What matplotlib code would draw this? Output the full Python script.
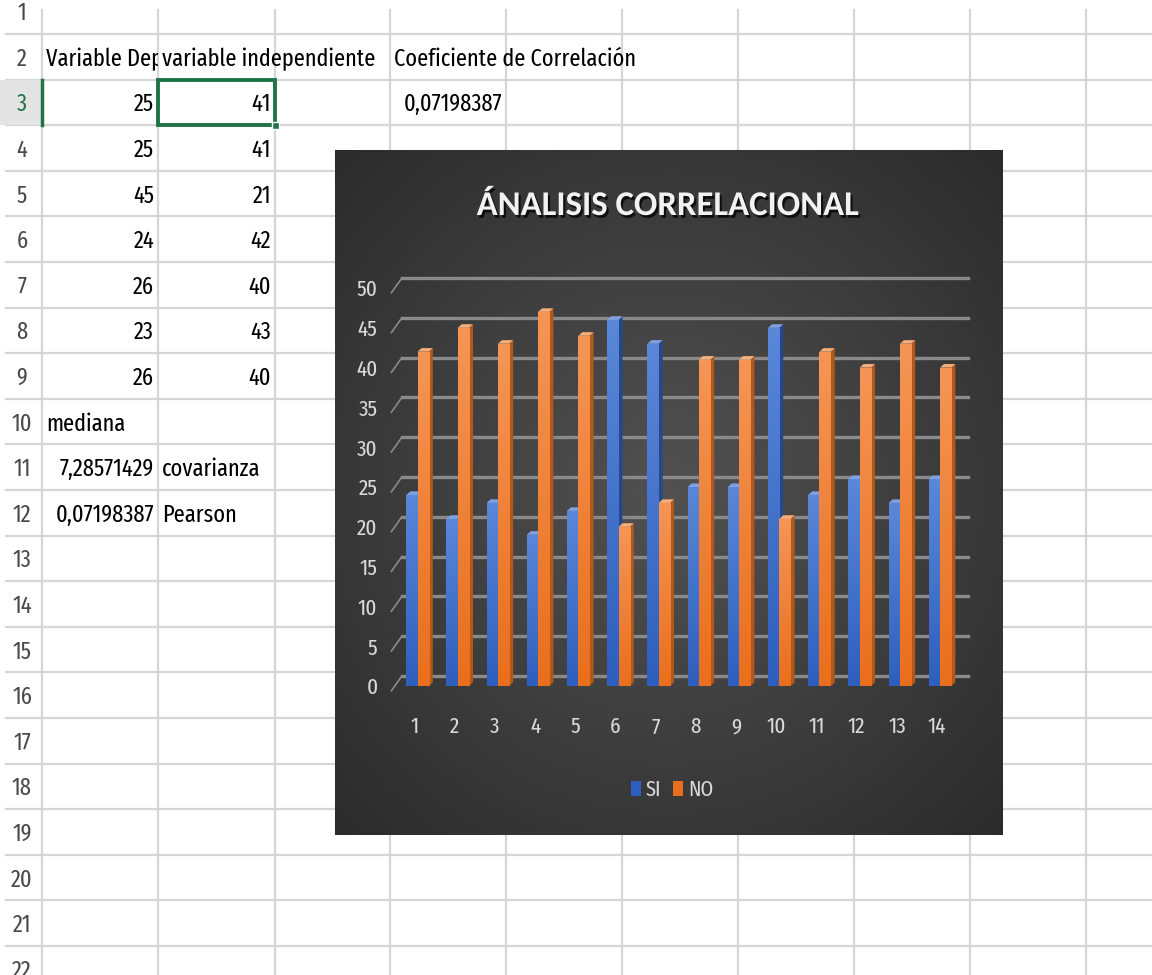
# Hoja de cálculo con gráfico de análisis correlacional
import numpy as np
import matplotlib.pyplot as plt
from matplotlib.patches import Rectangle, Polygon
from matplotlib.colors import LinearSegmentedColormap
import matplotlib.patheffects as pe
import matplotlib.transforms as mtransforms

plt.rcParams['font.family'] = ['Fira Sans Extra Condensed',
                               'Liberation Sans', 'DejaVu Sans']

# %%
# Datos del gráfico
categorias = np.arange(1, 15)
si = [24, 21, 23, 19, 22, 46, 43, 25, 25, 45, 24, 26, 23, 26]
no = [42, 45, 43, 47, 44, 20, 23, 41, 41, 21, 42, 40, 43, 40]
yticks = [0, 5, 10, 15, 20, 25, 30, 35, 40, 45, 50]

# Datos de la hoja
var_dep = [25, 25, 45, 24, 26, 23, 26]
var_indep = [41, 41, 21, 42, 40, 43, 40]
coef_corr = '0,07198387'
covarianza = '7,28571429'
pearson = '0,07198387'

# %%
W, H = 1152, 975
fig = plt.figure(figsize=(11.52, 9.75), dpi=100)
sheet = fig.add_axes([0, 0, 1, 1])
sheet.set_xlim(0, W)
sheet.set_ylim(H, 0)
sheet.axis('off')

col_x = [42, 158, 275, 390, 506, 622, 738, 854, 970, 1086]
row_h = 45.6
row0 = 34  # borde inferior de la fila 1


def row_top(r):
    return row0 + (r - 2) * row_h


grid_c = '#d6d6d6'
for n in range(22):
    y = row0 + n * row_h
    sheet.plot([6, W], [y, y], color=grid_c, lw=1.6, zorder=1)
for x in col_x:
    sheet.plot([x, x], [10, H], color=grid_c, lw=1.6, zorder=1)

# fila 3 seleccionada
green = '#217346'
sheet.add_patch(Rectangle((0, row_top(3)), 42, row_h, facecolor='#e4e4e4',
                          edgecolor='none', zorder=2))
sheet.plot([42, 42], [row_top(3), row_top(4)], color=green, lw=2.5, zorder=3)

fs = 17.5
for r in range(1, 23):
    yb = row_top(r) + row_h / 2 + 9
    sheet.text(22, yb, str(r), ha='center', va='baseline', fontsize=fs,
               color=green if r == 3 else '#4a4a4a', zorder=4)

txt_kw = dict(fontsize=fs, color='black', va='baseline', zorder=4)


def cell(r, c, text, align='left', clip=False):
    yb = row_top(r) + row_h / 2 + 9
    if align == 'left':
        t = sheet.text(col_x[c] + 4, yb, text, ha='left', **txt_kw)
    else:
        t = sheet.text(col_x[c + 1] - 4, yb, text, ha='right', **txt_kw)
    if clip:
        box = Rectangle((col_x[c], row_top(r)), col_x[c + 1] - col_x[c],
                        row_h, transform=sheet.transData, fill=False,
                        visible=False)
        sheet.add_patch(box)
        t.set_clip_path(box)
        t.set_clip_on(True)
    return t


cell(2, 0, 'Variable Dependiente', clip=True)
cell(2, 1, 'variable independiente')
cell(2, 3, 'Coeficiente de Correlación')
cell(3, 3, coef_corr, align='right')
for i, (a, b) in enumerate(zip(var_dep, var_indep)):
    cell(3 + i, 0, str(a), align='right')
    cell(3 + i, 1, str(b), align='right')
cell(10, 0, 'mediana')
cell(11, 0, covarianza, align='right')
cell(11, 1, 'covarianza')
cell(12, 0, pearson, align='right')
cell(12, 1, 'Pearson')

# celda activa B3
sheet.add_patch(Rectangle((col_x[1], row_top(3)), col_x[2] - col_x[1], row_h,
                          fill=False, edgecolor=green, lw=2.8, zorder=5))
sheet.add_patch(Rectangle((col_x[2] - 3, row_top(4) - 3), 7, 7,
                          facecolor=green, edgecolor='white', lw=1, zorder=6))

# %%
# Fondo del gráfico (degradado radial)
cx0, cy0, cx1, cy1 = 335, 150, 1002, 835
bg = fig.add_axes([cx0 / W, 1 - cy1 / H, (cx1 - cx0) / W, (cy1 - cy0) / H])
yy, xx = np.mgrid[-1:1:300j, -1:1:300j]
r = np.sqrt(xx ** 2 + yy ** 2) / np.sqrt(2)
shade = 0.32 - 0.15 * r
bg.imshow(np.dstack([shade, shade, shade]), extent=[0, 1, 0, 1],
          aspect='auto', interpolation='bilinear')
bg.set_axis_off()

fig.text(668 / W, 1 - 215 / H, 'ÁNALISIS CORRELACIONAL', ha='center',
         va='baseline', fontsize=25, fontweight='bold', color='#f2f2f2',
         family=['Carlito', 'Liberation Sans', 'DejaVu Sans'],
         path_effects=[pe.SimplePatchShadow(offset=(1.5, -2), alpha=0.75,
                                            shadow_rgbFace='black'),
                       pe.Normal()])

# %%
# Barras con aspecto 3D
ax_l, ax_r, ax_b, ax_t = 391.4, 968.2, 686, 288
ax = fig.add_axes([ax_l / W, 1 - ax_b / H, (ax_r - ax_l) / W,
                   (ax_b - ax_t) / H])
ax.set_facecolor('none')
for s in ax.spines.values():
    s.set_visible(False)

# pared del fondo
wdx, wdy = 0.26, 1.25
for v in yticks:
    ax.plot([0.35 + wdx, 14.7], [v + wdy, v + wdy], color='#8a8a8a', lw=2.4,
            clip_on=False, zorder=1)
    ax.plot([0.35, 0.35 + wdx], [v - 0.6, v + wdy], color='#8a8a8a', lw=1.2,
            clip_on=False, zorder=1)

bw = 0.28
dx, dy = 0.1, 0.45
grad = np.linspace(0, 1, 64).reshape(-1, 1)
series = [(si, -bw / 2, ('#2f5fbe', '#5a87d8'), '#25488c', '#7fa0e3', 'SI'),
          (no, bw / 2, ('#ea6f1c', '#f59555'), '#b3581a', '#f7ad77', 'NO')]
for k, (vals, off, c_front, c_side, c_top, lab) in enumerate(series):
    z = 3 + 2 * k
    for x, v in zip(categorias, vals):
        left = x + off - bw / 2
        right = x + off + bw / 2
        ax.add_patch(Polygon([(right, 0), (right + dx, dy),
                              (right + dx, v + dy), (right, v)],
                             closed=True, facecolor=c_side, edgecolor='none',
                             zorder=z, clip_on=False))
        ax.add_patch(Polygon([(left, v), (left + dx, v + dy),
                              (right + dx, v + dy), (right, v)],
                             closed=True, facecolor=c_top, edgecolor='none',
                             zorder=z, clip_on=False))
    bars = ax.bar(categorias + off, vals, width=bw, color=c_front[0],
                  label=lab, zorder=z + 1, clip_on=False)
    cmap = LinearSegmentedColormap.from_list(lab, list(c_front))
    for rect in bars:
        x0, w, h = rect.get_x(), rect.get_width(), rect.get_height()
        im = ax.imshow(grad, extent=[x0, x0 + w, 0, h], origin='lower',
                       cmap=cmap, aspect='auto', zorder=z + 1.1)
        im.set_clip_path(rect)

ax.set_xlim(0.35, 14.7)
ax.set_ylim(0, 50)
ax.set_yticks(yticks)
ax.set_xticks(categorias)
ax.set_xticklabels([str(c) for c in categorias])
ax.tick_params(axis='both', length=0, labelcolor='#d9d9d9', labelsize=16.5)
ax.tick_params(axis='y', pad=10)
ax.tick_params(axis='x', pad=22)
shift = mtransforms.ScaledTranslation(-3 / 100, 0, fig.dpi_scale_trans)
for lbl in ax.get_xticklabels():
    lbl.set_transform(lbl.get_transform() + shift)

ax.legend(loc='center', bbox_to_anchor=(672 / W, 1 - 790 / H),
          bbox_transform=fig.transFigure, ncol=2, frameon=False,
          fontsize=16, labelcolor='#d9d9d9', handlelength=0.45,
          handleheight=0.7, handletextpad=0.25, columnspacing=0.5)

fig.savefig('out.png', dpi=100)
